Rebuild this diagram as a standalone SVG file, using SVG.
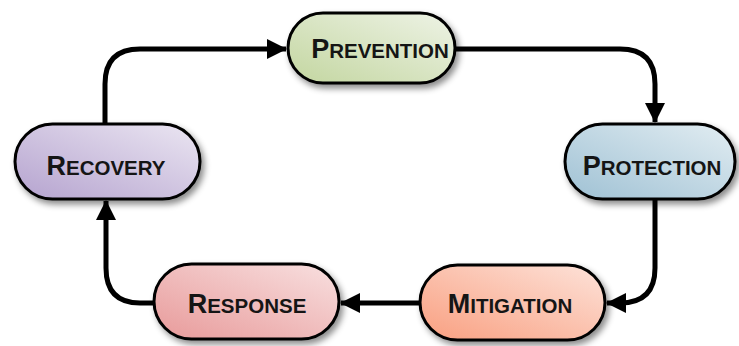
<svg xmlns="http://www.w3.org/2000/svg" width="739" height="346" viewBox="0 0 739 346">
<defs>
<style>
.node{stroke:#000;stroke-width:3;filter:url(#sh)}
.lbl{font-family:"Liberation Sans",Arial,sans-serif;font-weight:bold;fill:#151515;text-anchor:middle}
.big{font-size:27px}
.sm{font-size:20.5px}
.conn{fill:none;stroke:#000;stroke-width:5;marker-end:url(#ah)}
</style>
<filter id="sh" x="-20%" y="-30%" width="140%" height="170%">
<feDropShadow dx="3" dy="4" stdDeviation="3" flood-color="#000" flood-opacity="0.45"/>
</filter>
<marker id="ah" markerUnits="userSpaceOnUse" markerWidth="24" markerHeight="22" refX="19" refY="10" orient="auto">
<path d="M0,0 L20,10 L0,20 Z" fill="#000"/>
</marker>
<linearGradient id="gPrev" x1="0" y1="1" x2="1" y2="0"><stop offset="0" stop-color="#c3d6a0"/><stop offset="1" stop-color="#eef3e6"/></linearGradient>
<linearGradient id="gRec" x1="0" y1="1" x2="1" y2="0"><stop offset="0" stop-color="#b5a3cf"/><stop offset="1" stop-color="#ebe6f2"/></linearGradient>
<linearGradient id="gProt" x1="0" y1="1" x2="1" y2="0"><stop offset="0" stop-color="#9fc1d4"/><stop offset="1" stop-color="#e2edf2"/></linearGradient>
<linearGradient id="gResp" x1="0" y1="1" x2="1" y2="0"><stop offset="0" stop-color="#e89a9a"/><stop offset="1" stop-color="#f8e0e0"/></linearGradient>
<linearGradient id="gMit" x1="0" y1="1" x2="1" y2="0"><stop offset="0" stop-color="#f99f80"/><stop offset="1" stop-color="#fde3da"/></linearGradient>
</defs>
<rect width="739" height="346" fill="#fff"/>
<g id="connectors">
<path class="conn" d="M105,124 V84 Q105,49 140,49 H286"/>
<path class="conn" d="M455,49 H620 Q655,49 655,84 V122"/>
<path class="conn" d="M655,199 V268 Q655,303 620,303 H607"/>
<path class="conn" d="M420,303 H341"/>
<path class="conn" d="M154,303 H140 Q106,303 106,268 V201"/>
</g>
<g id="prevention">
<rect class="node" x="288" y="13" width="167" height="70" rx="35" fill="url(#gPrev)"/>
<text class="lbl" x="380" y="58"><tspan class="big">P</tspan><tspan class="sm">REVENTION</tspan></text>
</g>
<g id="protection">
<rect class="node" x="565" y="124" width="170" height="75" rx="37.5" fill="url(#gProt)"/>
<text class="lbl" x="652" y="175"><tspan class="big">P</tspan><tspan class="sm">ROTECTION</tspan></text>
</g>
<g id="mitigation">
<rect class="node" x="420" y="265" width="185" height="75" rx="37.5" fill="url(#gMit)"/>
<text class="lbl" x="510" y="313"><tspan class="big">M</tspan><tspan class="sm">ITIGATION</tspan></text>
</g>
<g id="response">
<rect class="node" x="154" y="264" width="185" height="75" rx="37.5" fill="url(#gResp)"/>
<text class="lbl" x="247" y="313"><tspan class="big">R</tspan><tspan class="sm">ESPONSE</tspan></text>
</g>
<g id="recovery">
<rect class="node" x="15" y="124" width="185" height="75" rx="37.5" fill="url(#gRec)"/>
<text class="lbl" x="106" y="175"><tspan class="big">R</tspan><tspan class="sm">ECOVERY</tspan></text>
</g>
</svg>
